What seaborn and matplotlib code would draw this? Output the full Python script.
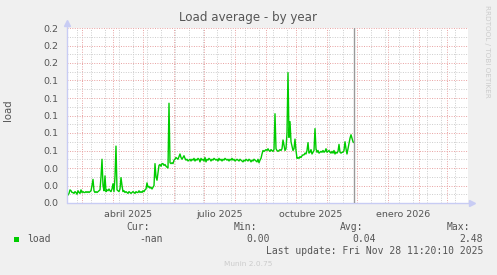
import matplotlib
matplotlib.use("Agg")
import matplotlib.pyplot as plt
import matplotlib.dates as mdates
from matplotlib.ticker import FixedLocator, NullFormatter
from matplotlib.lines import Line2D
import seaborn as sns
import pandas as pd

# ---------------- data ----------------
START_DATE = "2025-02-14"
NOW_DATE = "2025-11-28"
load_values = [
    0.010, 0.009, 0.011, 0.015, 0.014, 0.012, 0.012, 0.011, 0.013, 0.012,
    0.010, 0.014, 0.012, 0.011, 0.015, 0.012, 0.013, 0.012, 0.012, 0.013,
    0.012, 0.013, 0.012, 0.013, 0.014, 0.020, 0.027, 0.014, 0.012, 0.013,
    0.012, 0.013, 0.014, 0.015, 0.030, 0.050, 0.020, 0.014, 0.031, 0.013,
    0.015, 0.014, 0.016, 0.014, 0.013, 0.016, 0.022, 0.013, 0.030, 0.065,
    0.015, 0.014, 0.013, 0.016, 0.029, 0.020, 0.013, 0.014, 0.012, 0.013,
    0.012, 0.011, 0.013, 0.012, 0.011, 0.012, 0.013, 0.012, 0.011, 0.013,
    0.012, 0.012, 0.014, 0.012, 0.013, 0.012, 0.014, 0.013, 0.015, 0.016,
    0.023, 0.018, 0.019, 0.017, 0.018, 0.016, 0.018, 0.020, 0.045, 0.030,
    0.026, 0.035, 0.043, 0.044, 0.042, 0.045, 0.045, 0.043, 0.044, 0.042,
    0.041, 0.040, 0.114, 0.046, 0.045, 0.046, 0.045, 0.049, 0.050, 0.052,
    0.051, 0.050, 0.053, 0.056, 0.052, 0.050, 0.052, 0.054, 0.051, 0.049,
    0.050, 0.048, 0.049, 0.050, 0.048, 0.050, 0.049, 0.051, 0.048, 0.050,
    0.049, 0.051, 0.050, 0.047, 0.051, 0.049, 0.050, 0.048, 0.052, 0.047,
    0.050, 0.049, 0.051, 0.050, 0.048, 0.050, 0.049, 0.051, 0.050, 0.049,
    0.050, 0.048, 0.051, 0.049, 0.050, 0.048, 0.050, 0.049, 0.051, 0.050,
    0.049, 0.050, 0.048, 0.050, 0.049, 0.051, 0.049, 0.050, 0.048, 0.049,
    0.050, 0.049, 0.048, 0.050, 0.049, 0.048, 0.047, 0.049, 0.048, 0.050,
    0.049, 0.048, 0.050, 0.049, 0.047, 0.049, 0.048, 0.050, 0.049, 0.048,
    0.047, 0.050, 0.046, 0.049, 0.051, 0.056, 0.060, 0.059, 0.060, 0.061,
    0.060, 0.062, 0.060, 0.059, 0.061, 0.060, 0.059, 0.061, 0.102, 0.062,
    0.060, 0.059, 0.060, 0.061, 0.060, 0.062, 0.072, 0.066, 0.060, 0.062,
    0.080, 0.149, 0.075, 0.093, 0.070, 0.065, 0.060, 0.062, 0.073, 0.060,
    0.051, 0.052, 0.051, 0.053, 0.052, 0.054, 0.055, 0.055, 0.057, 0.056,
    0.060, 0.069, 0.057, 0.058, 0.061, 0.056, 0.058, 0.060, 0.085, 0.062,
    0.058, 0.060, 0.057, 0.058, 0.059, 0.058, 0.060, 0.058, 0.059, 0.062,
    0.058, 0.059, 0.060, 0.058, 0.057, 0.059, 0.057, 0.060, 0.056, 0.058,
    0.057, 0.059, 0.067, 0.058, 0.057, 0.058, 0.058, 0.060, 0.070, 0.062,
    0.056, 0.062, 0.068, 0.074, 0.078, 0.074, 0.070, 0.069,
]
month_labels = ["abril 2025", "julio 2025", "octubre 2025", "enero 2026"]
month_label_dates = ["2025-04-16", "2025-07-16", "2025-10-16", "2026-01-16"]
y_ticks = [0.00, 0.02, 0.04, 0.06, 0.08, 0.10, 0.12, 0.14, 0.16, 0.18, 0.20]
y_tick_labels = ["%.1f" % v for v in y_ticks]
series_name = "load"
legend_headers = ["Cur:", "Min:", "Avg:", "Max:"]
legend_values = ["-nan", "0.00", "0.04", "2.48"]
last_update = "Last update: Fri Nov 28 11:20:10 2025"

df = pd.DataFrame({
    "date": pd.date_range(START_DATE, periods=len(load_values), freq="D"),
    "load": load_values,
})

# ---------------- figure ----------------
W, H = 497, 275
sns.set_style("white")
plt.rcParams["font.family"] = ["DejaVu Sans"]
fig = plt.figure(figsize=(W / 100, H / 100), dpi=100)
fig.patch.set_facecolor("#f0f0f0")

L, R, T, B = 66.7, 468.0, 28.0, 203.0
ax = fig.add_axes([L / W, 1 - B / H, (R - L) / W, (B - T) / H])
ax.set_facecolor("white")

def fx(x):
    return x / W

def fy(y):
    return 1 - y / H

ref = pd.Timestamp("2025-04-01")
xmin = mdates.date2num(ref - pd.Timedelta(days=46.3))
xmax = mdates.date2num(ref + pd.Timedelta(days=355.0))

sns.lineplot(data=df, x="date", y="load", ax=ax, color="#00cc00", linewidth=1.0,
             legend=False, zorder=5)
ax.set_xlim(xmin, xmax)
ax.set_ylim(0, 0.2)
ax.set_xlabel("")
ax.set_ylabel("")

# grid
major_x = mdates.date2num(pd.date_range("2025-01-01", "2026-04-01", freq="MS"))
minor_x = mdates.date2num(pd.date_range("2025-01-13", "2026-04-01", freq="14D"))
ax.xaxis.set_major_locator(FixedLocator(major_x))
ax.xaxis.set_minor_locator(FixedLocator(minor_x))
ax.xaxis.set_major_formatter(NullFormatter())
ax.xaxis.set_minor_formatter(NullFormatter())
ax.yaxis.set_major_locator(FixedLocator(y_ticks))
ax.yaxis.set_minor_locator(FixedLocator([v + 0.01 for v in y_ticks[:-1]]))
ax.set_yticklabels(y_tick_labels)

dot = (0, (1, 1.5))
ax.grid(False)
ax.xaxis.grid(True, which="minor", color="#cccccc", linewidth=0.7, linestyle=dot, zorder=0)
ax.yaxis.grid(True, which="minor", color="#cccccc", linewidth=0.7, linestyle=dot, zorder=0)
ax.xaxis.grid(True, which="major", color="#e8a0a0", linewidth=0.7, linestyle=dot, zorder=1)
ax.yaxis.grid(True, which="major", color="#e8a0a0", linewidth=0.7, linestyle=dot, zorder=1)
ax.set_axisbelow(True)

ax.tick_params(axis="y", which="both", length=0, pad=6, labelsize=6.8, labelcolor="#555555")
ax.tick_params(axis="x", which="major", length=2.5, color="#e8a0a0", direction="out")
ax.tick_params(axis="x", which="minor", length=2.5, color="#cccccc", direction="out")

for s in ax.spines.values():
    s.set_visible(False)

axis_col = "#c8ccf4"
ax.add_line(Line2D([0, 0], [0, 1 + 4 / 175], transform=ax.transAxes, color=axis_col,
                   lw=1, clip_on=False, zorder=6))
ax.add_line(Line2D([0, (471 - L) / (R - L)], [0, 0], transform=ax.transAxes,
                   color=axis_col, lw=1, clip_on=False, zorder=6))
ax.plot([0], [1 + 5 / 175], marker="^", color=axis_col, markersize=4.5,
        transform=ax.transAxes, clip_on=False, zorder=6)
ax.plot([(472 - L) / (R - L)], [0], marker=">", color=axis_col, markersize=4.5,
        transform=ax.transAxes, clip_on=False, zorder=6)

# "now" rule
ax.axvline(pd.Timestamp(NOW_DATE), color="#999999", linewidth=1.0, zorder=7)

# month labels
for d, lab in zip(month_label_dates, month_labels):
    ax.text(pd.Timestamp(d), -11.5 / 175, lab, transform=ax.get_xaxis_transform(),
            ha="center", va="center", fontsize=6.8, color="#555555")

# texts
fig.text(fx(248), fy(18), "Load average - by year", ha="center", va="center",
         fontsize=8.6, color="#555555")
fig.text(fx(8), fy(110), "load", ha="center", va="center", rotation=90,
         fontsize=7.3, color="#555555")
fig.text(fx(487), fy(5), "RRDTOOL / TOBI OETIKER", ha="center", va="top",
         rotation=270, fontsize=5.2, color="#cccccc")

mono = "DejaVu Sans Mono"
fs = 7.0
hx = [150, 257, 363, 470]
vx = [163, 270, 376, 483]
for x, t in zip(hx, legend_headers):
    fig.text(fx(x), fy(227), t, ha="right", va="center", family=mono, fontsize=fs, color="#555555")
for x, t in zip(vx, legend_values):
    fig.text(fx(x), fy(239), t, ha="right", va="center", family=mono, fontsize=fs, color="#555555")
fig.patches.append(plt.Rectangle((fx(14), fy(242)), 5 / W, 5 / H, transform=fig.transFigure,
                                 facecolor="#00cc00", edgecolor="none"))
fig.text(fx(27), fy(239), series_name, ha="left", va="center", family=mono, fontsize=fs, color="#555555")
fig.text(fx(483), fy(251), last_update, ha="right", va="center", family=mono, fontsize=fs, color="#555555")
fig.text(fx(248), fy(264), "Munin 2.0.75", ha="center", va="center", fontsize=5.3, color="#cccccc")

fig.savefig("out.png", dpi=100, facecolor=fig.get_facecolor())
